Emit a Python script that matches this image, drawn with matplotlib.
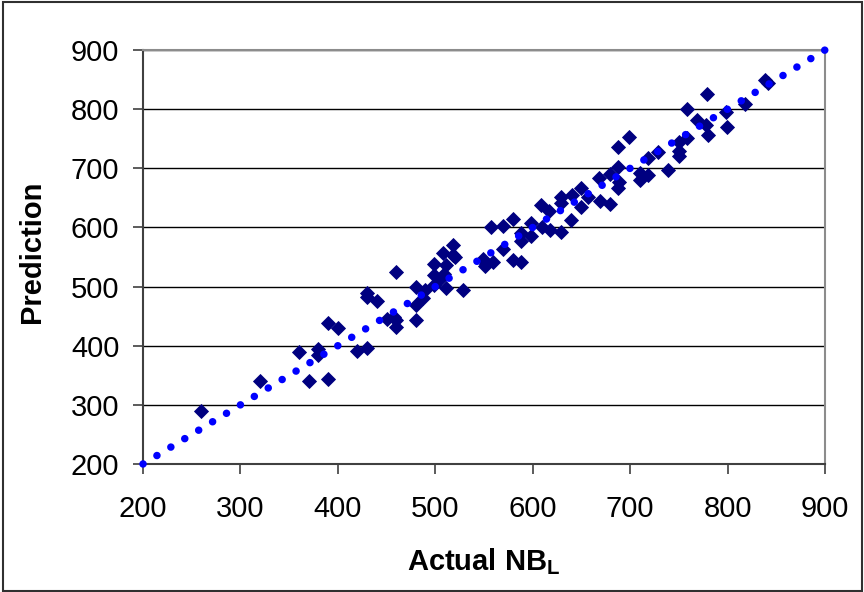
"""
Actual NB_L vs Prediction scatter, with y = x reference line
"""

import matplotlib

matplotlib.use("Agg")
import matplotlib.pyplot as plt
from matplotlib.patches import Rectangle

plt.rcParams["font.family"] = ["Liberation Sans", "DejaVu Sans"]
plt.rcParams["mathtext.fontset"] = "custom"
plt.rcParams["mathtext.rm"] = "Liberation Sans"
plt.rcParams["mathtext.bf"] = "Liberation Sans:bold"

# 读图估计的数据点 (actual, predicted)
actual = [
    260, 320, 360, 370, 380, 380, 390, 400, 390, 420,
    430, 430, 430, 440, 450, 458, 460, 460, 460,
    480, 480, 480, 487, 489, 499, 499, 499, 504, 508,
    511, 509, 511, 518, 518, 520, 528,
    549, 551, 552, 559, 557, 569, 580, 569, 580, 588,
    588, 588, 598, 598, 609, 610, 617, 618, 629, 629,
    629, 639, 640, 650, 650, 657, 668, 669, 679, 679,
    688, 688, 689, 688, 699, 710, 710, 718, 718, 729,
    739, 750, 750, 750, 758, 758, 769, 778, 780, 779,
    799, 798, 818, 838, 842,
]
predicted = [
    290, 340, 390, 340, 395, 384, 438, 430, 344, 391,
    396, 489, 482, 475, 446, 448, 432, 525, 443,
    500, 468, 444, 480, 494, 539, 520, 503, 511, 556,
    536, 522, 497, 570, 553, 550, 494,
    547, 534, 539, 542, 600, 602, 615, 563, 545, 542,
    590, 577, 586, 607, 638, 601, 627, 596, 593, 641,
    652, 612, 655, 666, 634, 652, 683, 644, 640, 691,
    703, 666, 677, 736, 753, 692, 680, 689, 717, 728,
    697, 745, 730, 720, 752, 801, 782, 773, 756, 825,
    770, 796, 809, 849, 845,
]

# 参考线 y = x
line_x = [200, 900]
line_y = [200, 900]

ticks = [200, 300, 400, 500, 600, 700, 800, 900]

fig = plt.figure(figsize=(8.64, 5.92), dpi=100)
ax = fig.add_axes([143 / 864, 1 - 464 / 592, (825 - 143) / 864, (464 - 50) / 592])

ax.set_xlim(200, 900)
ax.set_ylim(200, 900)
ax.set_xticks(ticks)
ax.set_yticks(ticks)

ax.yaxis.grid(True, color="black", linewidth=1.0)
ax.set_axisbelow(True)

ax.plot(
    actual,
    predicted,
    linestyle="none",
    marker="D",
    markersize=7.0,
    color="#000080",
    markeredgecolor="#000080",
    markeredgewidth=0.6,
    zorder=3,
)
ax.plot(
    line_x,
    line_y,
    color="#0000ff",
    linewidth=5.4,
    linestyle=(0, (0.01, 2.16)),
    dash_capstyle="round",
    zorder=4,
    clip_on=False,
)

for side in ["left", "bottom"]:
    ax.spines[side].set_color("#404040")
    ax.spines[side].set_linewidth(1.5)
for side in ["top", "right"]:
    ax.spines[side].set_color("#8c8c8c")
    ax.spines[side].set_linewidth(1.5)

ax.tick_params(
    axis="both",
    direction="out",
    length=7,
    width=1.2,
    color="#404040",
    labelsize=21,
)
ax.tick_params(axis="x", pad=15)
ax.tick_params(axis="y", pad=10)

fig.text(
    484 / 864,
    1 - 570 / 592,
    r"Actual NB$_{\mathbf{L}}$",
    ha="center",
    va="baseline",
    fontsize=21,
    fontweight="bold",
)
fig.text(
    31.5 / 864,
    1 - 252 / 592,
    "Prediction",
    ha="center",
    va="center",
    rotation=90,
    fontsize=21,
    fontweight="bold",
)

# 外框
fig.patches.append(
    Rectangle(
        (2.5 / 864, 1.5 / 592),
        1 - 5 / 864,
        1 - 3 / 592,
        transform=fig.transFigure,
        fill=False,
        edgecolor="#303030",
        linewidth=1.5,
    )
)

fig.savefig("out.png", dpi=100)
